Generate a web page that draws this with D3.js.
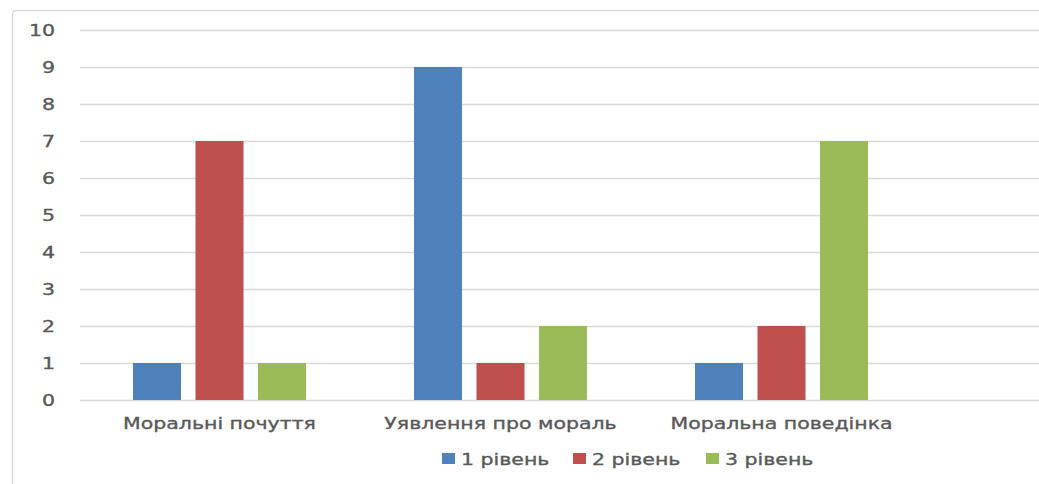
<!DOCTYPE html>
<html><head><meta charset="utf-8">
<script src="https://cdn.jsdelivr.net/npm/d3@7"></script>
<style>body{margin:0;background:#fff}svg{display:block}</style>
</head><body>
<svg id="c" width="1039" height="484"></svg>
<script>
const categories = ["Моральні почуття", "Уявлення про мораль", "Моральна поведінка"];
const seriesNames = ["1 рівень", "2 рівень", "3 рівень"];
const level1 = [1, 9, 1];
const level2 = [7, 1, 2];
const level3 = [1, 2, 7];
const yTicks = [0,1,2,3,4,5,6,7,8,9,10];
const colors = ["#4f81bd", "#c0504d", "#9bbb59"];
const series = [level1, level2, level3];

const svg = d3.select("#c");
const font = "'DejaVu Sans', sans-serif";
const textColor = "#595959";
const STRETCH = 1.28;

function stretch(sel, k) {
  sel.each(function() {
    const w = this.getComputedTextLength();
    d3.select(this).attr("textLength", w * k).attr("lengthAdjust", "spacingAndGlyphs")
      .attr("stroke", textColor).attr("stroke-width", 0.35);
  });
}

// outer border (cropped chart frame)
svg.append("path").attr("d", "M12.5,484 L12.5,14 Q12.5,10.5 16,10.5 L1039,10.5")
  .attr("fill","none").attr("stroke","#d9d9d9").attr("stroke-width",1.5);

const plotLeft = 79, plotRight = 922, gridRight = 1039;
const y = d3.scaleLinear().domain([0,10]).range([400,30]);
const x = d3.scaleBand().domain(categories).range([plotLeft, plotRight]).paddingInner(0).paddingOuter(0);
const inner = d3.scaleBand().domain([0,1,2]).range([0, x.bandwidth()]).paddingInner(0.232).paddingOuter(0.864);

// gridlines
svg.append("g").selectAll("line").data(yTicks).join("line")
  .attr("x1", 80).attr("x2", gridRight)
  .attr("y1", d => Math.round(y(d))+0.5).attr("y2", d => Math.round(y(d))+0.5)
  .attr("stroke", "#d9d9d9").attr("stroke-width", 1.3);

// y axis labels
const yAxis = d3.axisLeft(y).tickValues(yTicks).tickSize(0).tickPadding(0);
const ya = svg.append("g").attr("transform", "translate(55,0)").call(yAxis);
ya.select(".domain").remove();
ya.selectAll("text").attr("font-family", font).attr("font-size", 16).attr("fill", textColor).attr("dy", "0.36em");
stretch(ya.selectAll("text"), STRETCH);

// bars
categories.forEach((c, ci) => {
  series.forEach((s, si) => {
    svg.append("rect")
      .attr("x", x(c) + inner(si))
      .attr("width", inner.bandwidth())
      .attr("y", y(s[ci]))
      .attr("height", y(0) - y(s[ci]))
      .attr("fill", colors[si]);
  });
});

// x axis labels
const xAxis = d3.axisBottom(x).tickSize(0).tickPadding(18);
const xa = svg.append("g").attr("transform", "translate(0,400)").call(xAxis);
xa.select(".domain").remove();
xa.selectAll("text").attr("font-family", font).attr("font-size", 16).attr("fill", textColor);
stretch(xa.selectAll("text"), STRETCH);

// legend
const legendX = [442, 573, 706];
const lg = svg.append("g");
seriesNames.forEach((n, i) => {
  lg.append("rect").attr("x", legendX[i]).attr("y", 453).attr("width", 13).attr("height", 11).attr("fill", colors[i]);
  const t = lg.append("text").attr("x", legendX[i] + 19).attr("y", 465)
    .attr("font-family", font).attr("font-size", 16).attr("fill", textColor).text(n);
  stretch(t, STRETCH);
});
</script>
</body></html>
